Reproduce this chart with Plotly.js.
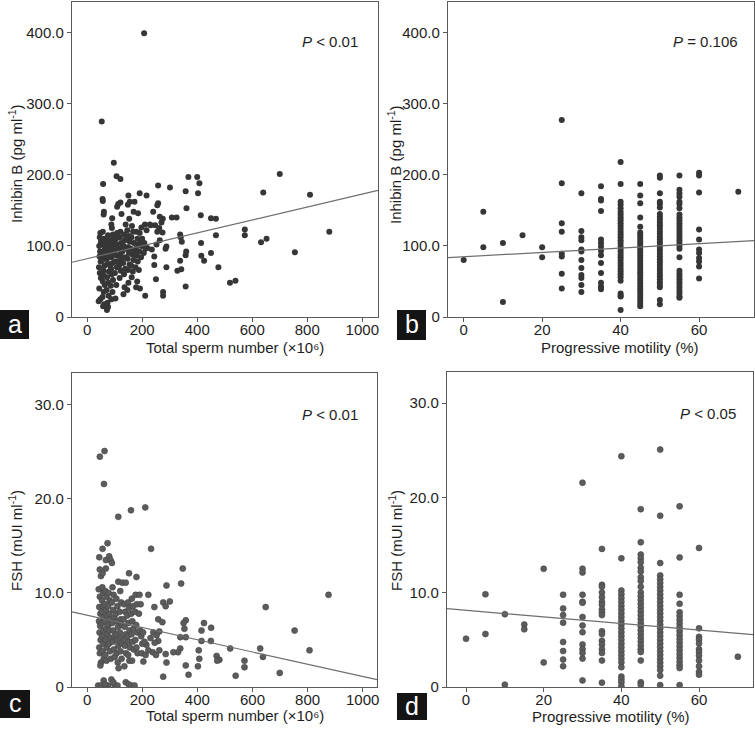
<!DOCTYPE html>
<html>
<head>
<meta charset="utf-8">
<script src="https://cdn.plot.ly/plotly-3.0.1.min.js"></script>
<style>html,body{margin:0;padding:0;background:#fff;}#chart{width:755px;height:729px;}</style>
</head>
<body>
<div id="chart"></div>
<script>
// ---------- Panel a: total sperm number vs inhibin B ----------
const spermA = [
207,53,97,107,121,58,56,57,61,60,
91,113,109,121,150,155,148,172,191,216,
258,301,358,368,400,408,403,361,413,450,
468,468,477,414,415,425,450,338,340,344,
338,342,328,358,360,358,308,325,519,539,
573,573,632,652,640,700,810,755,880,276,
211,276,288,288,285,250,244,244,235,252,
264,274,270,264,275,255,258,240,231,247,
219,228,262,255,
42,48,44,50,46,43,49,45,47,44,
50,46,48,58,62,56,60,64,57,61,
59,63,56,60,64,58,62,57,72,76,
74,78,71,77,73,79,75,72,78,74,
80,76,88,92,86,94,90,87,93,89,
95,91,86,94,90,88,103,106,101,108,
104,110,102,107,105,109,118,122,116,124,
120,117,123,119,121,125,132,136,134,138,
131,139,133,137,135,140,146,150,148,154,
147,152,149,155,151,146,153,162,166,160,
168,164,170,161,167,163,169,178,182,176,
184,180,177,183,179,185,192,196,190,198,
194,191,197,206,212,208,216,210,66,68,
82,84,98,112,114,128,126,142,144,158,
172,186,188,200,130,100,96,70
];
const inhibinA = [
399,275,217,198,194,187,166,163,148,144,
139,159,155,161,171,162,158,162,174,171,
185,182,177,197,197,188,174,153,143,139,
138,115,70,104,86,79,90,116,112,106,
79,67,65,87,92,43,140,140,48,51,
123,115,105,110,175,201,172,91,120,30,
30,35,70,99,96,53,73,85,95,102,
108,119,133,141,138,157,160,148,129,129,
97,130,125,120,
22,25,40,55,62,70,78,85,92,100,
106,112,118,15,18,28,35,45,50,58,
65,72,80,88,95,102,110,120,10,14,
20,30,38,48,56,64,75,82,90,98,
105,115,25,35,44,52,60,68,76,84,
92,100,108,116,125,130,26,45,62,70,
78,86,94,102,110,118,55,65,72,80,
88,96,104,112,120,145,32,42,60,68,
76,84,100,108,116,130,38,48,66,74,
82,90,98,106,114,122,138,56,64,72,
80,88,104,112,120,128,148,42,50,70,
78,86,96,110,120,146,40,84,92,100,
108,118,126,90,96,104,122,130,100,84,
96,72,88,96,78,92,84,96,110,96,
90,102,66,110,100,104,112,108
];
const fitAx = [-55, 1057];
const fitAy = [77, 178];

// ---------- Panel b: progressive motility vs inhibin B ----------
const motilityLevels = [0, 5, 10, 15, 20, 25, 30, 35, 40, 45, 50, 55, 60, 70];
const inhibinByMotility = [
  [80],
  [148, 98],
  [104, 21],
  [115],
  [98, 84],
  [277, 188, 132, 120, 89, 85, 61, 40],
  [174, 121, 112, 108, 95, 92, 80, 69, 59, 55, 45, 35],
  [184, 166, 164, 149, 109, 104, 99, 93, 87, 76, 62, 48, 43, 39],
  [218, 187, 162, 158, 153, 148, 144, 140, 136, 132, 128, 124, 120, 116, 112, 108, 104, 100, 96, 92, 88, 84, 80, 76, 72, 68, 64, 60, 56, 51, 33, 30, 29, 10],
  [187, 171, 160, 140, 127, 119, 115, 111, 107, 103, 99, 95, 91, 87, 83, 79, 75, 71, 67, 63, 59, 55, 51, 47, 43, 39, 35, 31, 27, 23, 19, 15],
  [199, 196, 174, 162, 159, 154, 145, 141, 137, 133, 129, 125, 121, 117, 113, 109, 105, 101, 97, 93, 89, 85, 81, 77, 73, 69, 65, 61, 57, 53, 49, 45, 42, 24, 18],
  [199, 179, 174, 169, 162, 159, 153, 144, 140, 136, 132, 128, 124, 120, 116, 112, 108, 104, 100, 96, 84, 65, 61, 57, 53, 49, 45, 41, 37, 33, 29, 27],
  [203, 199, 175, 123, 109, 95, 90, 83, 78, 71, 54],
  [176]
];
const fitBx = [-4, 74];
const fitBy = [83.5, 107.5];

// ---------- Panel c: total sperm number vs FSH ----------
const spermC = [
46,63,61,211,159,113,74,56,232,44,
68,80,85,90,46,50,56,68,152,179,
347,113,128,140,341,288,876,648,753,807,
628,638,699,539,519,571,571,424,415,450,
449,415,470,480,472,405,407,402,358,350,
353,358,338,338,358,368,330,313,276,285,
288,276,300,285,258,273,244,222,240,252,
258,245,262,238,250,262,204,222,230,215,
40,50,60,68,76,88,100,110,140,150,160,172,65,95,
42,46,44,48,43,47,45,49,44,46,50,48,
55,58,54,57,53,59,56,60,54,58,56,60,
66,70,64,68,72,65,69,73,67,71,66,70,
78,82,76,80,84,77,81,85,79,83,86,
92,96,90,94,98,91,95,99,93,97,100,
106,110,104,108,112,105,109,113,107,111,114,
120,124,118,122,126,119,123,127,121,125,
134,138,132,136,140,133,137,141,135,
148,152,146,150,154,147,151,155,149,153,
162,166,160,164,168,161,165,169,163,
176,180,174,178,182,175,179,183,
190,194,188,192,196,200,198,203,208,212
];
const fshC = [
24.5,25.1,21.6,19.1,18.8,18.1,15.3,14.7,14.7,13.8,
13.5,13.9,13.5,13.2,12.5,11.8,12.1,12.6,12.1,11.7,
12.6,11.2,11.1,11.1,11.0,10.8,9.8,8.5,6.0,3.9,
4.1,3.2,1.5,1.2,4.1,2.8,2.1,6.8,6.0,6.3,
4.9,4.9,3.3,2.9,2.8,3.9,3.0,2.2,7.1,6.8,
6.2,5.3,5.3,4.1,2.3,1.3,3.7,3.7,1.1,3.5,
2.6,9.0,9.1,8.6,7.2,6.9,8.5,9.8,5.8,5.5,
4.9,4.7,5.9,3.7,3.4,3.9,2.7,3.9,5.2,4.5,
0.15,0.15,0.7,0.15,0.15,0.8,0.15,0.15,0.5,0.3,0.15,0.15,0.3,0.5,
10.4,9.6,8.5,7.8,7.0,6.5,5.8,5.0,4.2,3.6,2.6,2.3,
10.6,10.0,9.2,8.6,8.0,7.4,6.8,6.0,5.4,4.6,3.8,3.0,
10.2,9.6,8.8,8.2,7.6,7.0,6.2,5.6,5.0,4.2,3.4,2.8,
10.0,9.2,8.6,7.8,7.2,6.6,6.0,5.2,4.6,3.8,3.0,
10.6,9.8,9.0,8.2,7.4,6.8,6.0,5.4,4.8,4.0,3.2,
9.4,8.6,7.8,7.0,6.4,5.6,5.0,4.4,3.6,2.6,2.0,
10.2,9.0,8.0,7.2,6.6,5.8,5.2,4.6,3.8,3.0,
8.8,8.0,7.2,6.4,5.6,5.0,4.4,3.6,2.2,
9.0,8.4,7.6,6.8,6.0,5.4,4.8,4.2,3.4,2.8,
9.4,8.6,7.8,7.0,6.2,5.6,4.8,4.0,2.8,
9.8,8.8,8.0,6.6,5.8,5.0,4.2,3.6,
9.8,8.8,7.8,6.0,5.4,4.6,3.6,5.8,4.8,3.4
];
const fitCx = [-55, 1052];
const fitCy = [8.0, 0.78];

// ---------- Panel d: progressive motility vs FSH ----------
const fshByMotility = [
  [5.1],
  [9.8, 5.6],
  [7.7, 0.25],
  [6.6, 6.1],
  [12.5, 2.6],
  [9.75, 8.3, 7.6, 6.8, 4.75, 3.8, 2.9, 2.2],
  [21.6, 12.5, 12.1, 9.75, 9.0, 8.9, 7.4, 6.5, 5.8, 4.5, 4.0, 3.6, 3.0, 0.7],
  [14.6, 10.8, 10.6, 10.0, 9.5, 9.0, 8.7, 8.2, 7.9, 7.6, 5.9, 5.6, 4.9, 4.5, 4.0, 3.6, 2.8, 0.46],
  [24.4, 13.6, 10.2, 9.8, 9.4, 9.0, 8.6, 8.2, 7.8, 7.4, 7.0, 6.6, 6.2, 5.8, 5.4, 5.0, 4.6, 4.2, 3.8, 3.4, 3.0, 2.6, 2.1, 1.1, 0.8, 0.5, 0.1],
  [18.8, 15.3, 14.0, 13.6, 13.2, 12.6, 12.2, 11.6, 11.2, 10.6, 10.0, 9.6, 9.2, 8.8, 8.4, 8.0, 7.6, 7.2, 6.8, 6.4, 6.0, 5.6, 5.2, 4.8, 4.4, 4.0, 3.7, 2.8, 0.5, 0.25],
  [25.1, 18.1, 13.1, 11.8, 11.4, 11.0, 10.6, 10.2, 9.8, 9.4, 9.0, 8.6, 8.2, 7.8, 7.4, 7.0, 6.6, 6.2, 5.8, 5.4, 5.0, 4.6, 4.2, 3.8, 3.4, 3.0, 2.6, 2.2, 1.8, 1.2, 0.2],
  [19.1, 13.7, 9.75, 8.8, 7.9, 7.5, 7.1, 6.7, 6.3, 5.9, 5.5, 5.1, 4.7, 4.3, 3.9, 3.5, 3.1, 2.7, 2.3, 2.0, 0.2],
  [14.7, 6.2, 5.3, 5.0, 4.6, 4.0, 3.7, 3.3, 2.8, 2.2, 1.6, 1.3],
  [3.2]
];
const fitDx = [-4.9, 73.9];
const fitDy = [8.28, 5.53];

// ---------- tick labels ----------
const spermTicks = [0, 200, 400, 600, 800, 1000];
const motilityTicks = [0, 20, 40, 60];
const inhibinTicks = [0, 100, 200, 300, 400];
const inhibinTickText = ['0', '100.0', '200.0', '300.0', '400.0'];
const fshTicks = [0, 10, 20, 30];
const fshTickText = ['0', '10.0', '20.0', '30.0'];
const panelLetters = ['a', 'b', 'c', 'd'];
const pTexts = ['<i>P</i> < 0.01', '<i>P</i> = 0.106', '<i>P</i> < 0.01', '<i>P</i> < 0.05'];

// ---------- build ----------
function flatten(levels, byLevel) {
  const xs = [], ys = [];
  byLevel.forEach((arr, i) => arr.forEach(v => { xs.push(levels[i]); ys.push(v); }));
  return [xs, ys];
}
const [bx, by] = flatten(motilityLevels, inhibinByMotility);
const [dx, dy] = flatten(motilityLevels, fshByMotility);

const W = 755, H = 729;
const px = v => v / W;
const py = v => 1 - v / H;

const darkMarker = {color: '#363636', size: 6, line: {width: 0}};
const greyMarker = {color: '#5c5c5c', size: 6, line: {color: '#444', width: 0.6}};
const fitLine = {color: '#6e6e6e', width: 1.2};

const traces = [
  {x: spermA, y: inhibinA, type: 'scatter', mode: 'markers', marker: darkMarker, xaxis: 'x', yaxis: 'y'},
  {x: fitAx, y: fitAy, type: 'scatter', mode: 'lines', line: fitLine, xaxis: 'x', yaxis: 'y'},
  {x: bx, y: by, type: 'scatter', mode: 'markers', marker: darkMarker, xaxis: 'x2', yaxis: 'y2'},
  {x: fitBx, y: fitBy, type: 'scatter', mode: 'lines', line: fitLine, xaxis: 'x2', yaxis: 'y2'},
  {x: spermC, y: fshC, type: 'scatter', mode: 'markers', marker: greyMarker, xaxis: 'x3', yaxis: 'y3'},
  {x: fitCx, y: fitCy, type: 'scatter', mode: 'lines', line: fitLine, xaxis: 'x3', yaxis: 'y3'},
  {x: dx, y: dy, type: 'scatter', mode: 'markers', marker: greyMarker, xaxis: 'x4', yaxis: 'y4'},
  {x: fitDx, y: fitDy, type: 'scatter', mode: 'lines', line: fitLine, xaxis: 'x4', yaxis: 'y4'}
];

const tickFont = {family: 'Liberation Sans, Arial, sans-serif', size: 15, color: '#1e1e1e'};
function axis(domain, range, tickvals, ticktext, anchor, standoff) {
  const a = {
    domain: domain, range: range, anchor: anchor,
    showline: true, mirror: true, linecolor: '#5a5a5a', linewidth: 1.2,
    ticks: 'outside', ticklen: 4, tickcolor: '#5a5a5a', tickwidth: 1,
    showgrid: false, zeroline: false, tickvals: tickvals, tickfont: tickFont, fixedrange: true,
    ticklabelstandoff: standoff
  };
  if (ticktext) a.ticktext = ticktext;
  return a;
}

const layout = {
  width: W, height: H,
  margin: {l: 0, r: 0, t: 0, b: 0},
  paper_bgcolor: '#fff', plot_bgcolor: '#fff',
  showlegend: false,
  font: {family: 'Liberation Sans, Arial, sans-serif', color: '#1e1e1e'},
  xaxis: axis([px(72), px(378)], [-55, 1057], spermTicks, null, 'y', -5),
  yaxis: axis([py(317), py(2)], [0, 443], inhibinTicks, inhibinTickText, 'x', 0),
  xaxis2: axis([px(448), px(754)], [-4, 74], motilityTicks, null, 'y2', -5),
  yaxis2: axis([py(317), py(2)], [0, 443], inhibinTicks, inhibinTickText, 'x2', 0),
  xaxis3: axis([px(72), px(377)], [-55, 1052], spermTicks, null, 'y3', -5),
  yaxis3: axis([py(687), py(373)], [0, 33.4], fshTicks, fshTickText, 'x3', 0),
  xaxis4: axis([px(447), px(753)], [-4.9, 73.9], motilityTicks, null, 'y4', -5),
  yaxis4: axis([py(687), py(372)], [0, 33.3], fshTicks, fshTickText, 'x4', 0),
  shapes: [], annotations: []
};

const titleFont = {family: 'Liberation Sans, Arial, sans-serif', size: 15, color: '#1e1e1e'};
function note(x, y, text, extra) {
  return Object.assign({xref: 'paper', yref: 'paper', x: px(x), y: py(y), text: text,
    showarrow: false, xanchor: 'center', yanchor: 'middle', font: titleFont}, extra || {});
}
// axis titles
layout.annotations.push(note(235, 347, 'Total sperm number (×10⁶)'));
layout.annotations.push(note(620, 347, 'Progressive motility (%)'));
layout.annotations.push(note(235, 715, 'Total sperm number (×10⁶)'));
layout.annotations.push(note(611, 716, 'Progressive motility (%)'));
layout.annotations.push(note(15, 164, 'Inhibin B (pg ml<sup>-1</sup>)', {textangle: -90}));
layout.annotations.push(note(394, 164, 'Inhibin B (pg ml<sup>-1</sup>)', {textangle: -90}));
layout.annotations.push(note(15, 541, 'FSH (mUI ml<sup>-1</sup>)', {textangle: -90}));
layout.annotations.push(note(395, 541, 'FSH (mUI ml<sup>-1</sup>)', {textangle: -90}));
// P values
layout.annotations.push(note(330, 42, pTexts[0]));
layout.annotations.push(note(705, 42, pTexts[1]));
layout.annotations.push(note(330, 414, pTexts[2]));
layout.annotations.push(note(708, 413, pTexts[3]));
// panel letters
const boxes = [[0, 310, 29, 339], [397, 310, 426, 340], [0, 690, 30, 718], [397, 693, 427, 720]];
boxes.forEach((b, i) => {
  layout.shapes.push({type: 'rect', xref: 'paper', yref: 'paper', x0: px(b[0]), x1: px(b[2]),
    y0: py(b[3]), y1: py(b[1]), fillcolor: '#141414', line: {width: 0}, layer: 'above'});
  layout.annotations.push(note((b[0] + b[2]) / 2, (b[1] + b[3]) / 2 - 1, panelLetters[i],
    {font: {family: 'Liberation Sans, Arial, sans-serif', size: 25, color: '#fff'}}));
});

Plotly.newPlot('chart', traces, layout, {staticPlot: true, displayModeBar: false});
</script>
</body>
</html>
